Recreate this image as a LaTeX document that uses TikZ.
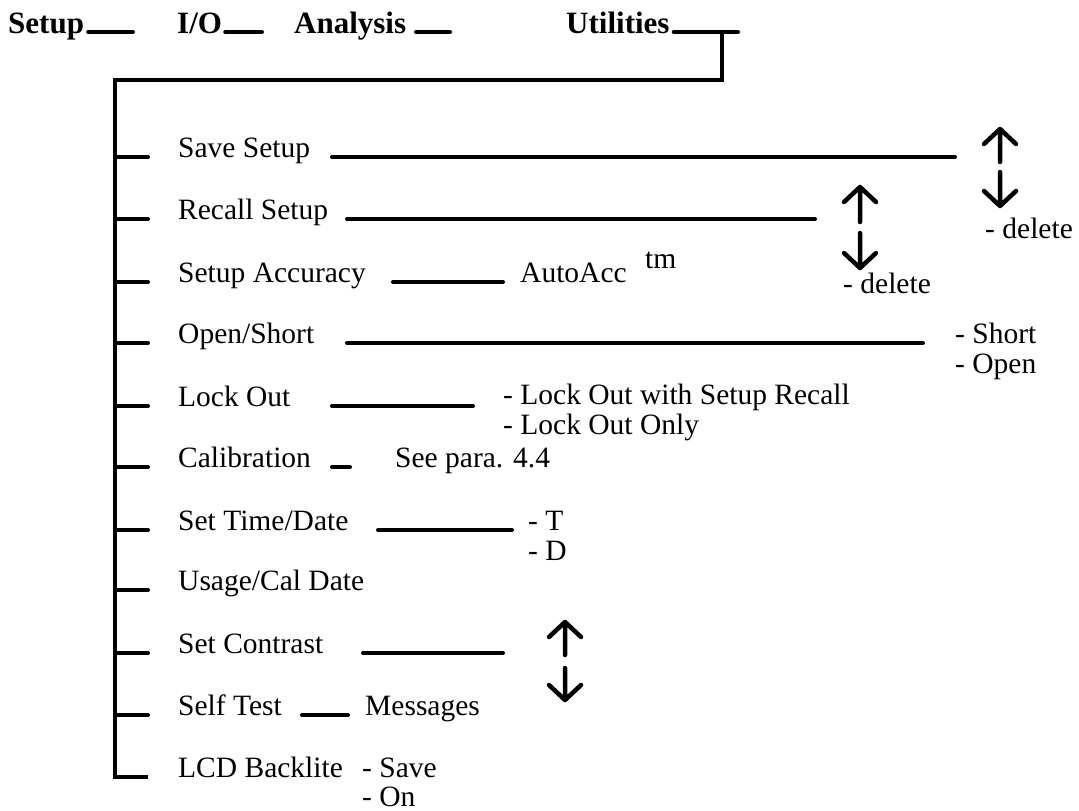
\documentclass[tikz,border=0pt]{standalone}
\usepackage{fontspec}
\setmainfont{Liberation Serif}
\begin{document}
\begin{tikzpicture}[x=1pt,y=-1pt,
  lbl/.style={anchor=base west,inner sep=0pt,font=\fontsize{29.5}{30}\selectfont},
  hdr/.style={anchor=base west,inner sep=0pt,font=\fontsize{31}{32}\selectfont\bfseries},
  rule/.style={line width=4pt,line cap=round},
  trunk/.style={line width=4pt},
  arr/.style={line width=4.5pt,line cap=round,line join=round}]
\useasboundingbox (0,0) rectangle (1079,811);
% header
\node[hdr] (hsetup) at (8,33) {Setup};
\node[hdr] (hio) at (177,33) {I/O};
\node[hdr] (hana) at (294,33) {Analysis};
\node[hdr] (hutil) at (566,33) {Utilities};
\coordinate (hsetupE) at (133,32);
\coordinate (hioE) at (262,32);
\coordinate (hanaS) at (416,32);
\coordinate (hanaE) at (450,32);
\coordinate (hutilE) at (738,32);
\coordinate (drop) at (722,32);
\coordinate (top) at (115,80);
\draw[rule] ([xshift=4pt,yshift=1pt]hsetup.base east) -- (hsetupE);
\draw[rule] ([xshift=3pt,yshift=1pt]hio.base east) -- (hioE);
\draw[rule] (hanaS) -- (hanaE);
\draw[rule] ([xshift=4pt,yshift=1pt]hutil.base east) -- (hutilE);
% items
\node[lbl] (save) at (178,157) {Save Setup};
\node[lbl] (recall) at (178,219) {Recall Setup};
\node[lbl] (acc) at (178,282) {Setup Accuracy};
\node[lbl] (open) at (178,343) {Open/Short};
\node[lbl] (lock) at (178,406) {Lock Out};
\node[lbl] (cal) at (178,467) {Calibration};
\node[lbl] (time) at (178,530) {Set Time/Date};
\node[lbl] (usage) at (178,590) {Usage/Cal Date};
\node[lbl] (contrast) at (178,653) {Set Contrast};
\node[lbl] (self) at (178,715) {Self Test};
\node[lbl] (lcd) at (178,777) {LCD Backlite};
% trunk and ticks
\draw[trunk] (drop) |- (top) |- (148,777);
\foreach \y in {157,219,282,343,406,467,530,590,653,715}
  \draw[rule] (115,\y) -- (148,\y);
% sub items
\node[lbl] (autoacc) at (520,282) {AutoAcc};
\node[lbl] (tm) at (645,268) {tm};
\node[lbl] (short) at (955,343) {- Short};
\node[lbl] (openo) at (955,373) {- Open};
\node[lbl] (lockr) at (503,404) {- Lock Out with Setup Recall};
\node[lbl] (locko) at (503,434) {- Lock Out Only};
\node[lbl] (para) at (395,467) {See para. 4.4};
\node[lbl] (tt) at (528,530) {- T};
\node[lbl] (dd) at (528,560) {- D};
\node[lbl] (msg) at (365,715) {Messages};
\node[lbl] (lsave) at (362,777) {- Save};
\node[lbl] (lon) at (362,806) {- On};
\node[lbl] (del1) at (985,238) {- delete};
\node[lbl] (del2) at (843,293) {- delete};
% connectors
\coordinate (saveS) at (332,157); \coordinate (saveE) at (955,157);
\coordinate (recS) at (347,219); \coordinate (recE) at (815,219);
\coordinate (accS) at (393,282); \coordinate (accE) at (503,282);
\coordinate (openS) at (347,343); \coordinate (openE) at (923,343);
\coordinate (lockS) at (332,406); \coordinate (lockE) at (473,406);
\coordinate (calS) at (332,467); \coordinate (calE) at (350,467);
\coordinate (timeS) at (378,530); \coordinate (timeE) at (512,530);
\coordinate (conS) at (363,653); \coordinate (conE) at (503,653);
\coordinate (selfS) at (302,715); \coordinate (selfE) at (348,715);
\foreach \a/\b in {saveS/saveE,recS/recE,accS/accE,openS/openE,lockS/lockE,calS/calE,timeS/timeE,conS/conE,selfS/selfE}
  \draw[rule] (\a) -- (\b);
% arrows
\newcommand{\updown}[5]{% x, uptip, upbottom, downtop, downtip
  \draw[arr] (#1-16,#2+15) -- (#1,#2) -- (#1+16,#2+15) (#1,#2) -- (#1,#3);
  \draw[arr] (#1-16,#5-15) -- (#1,#5) -- (#1+16,#5-15) (#1,#5) -- (#1,#4);}
\updown{1000}{129}{162}{172}{206}
\updown{860}{187}{222}{233}{268}
\updown{565}{622}{655}{668}{700}
\end{tikzpicture}
\end{document}
